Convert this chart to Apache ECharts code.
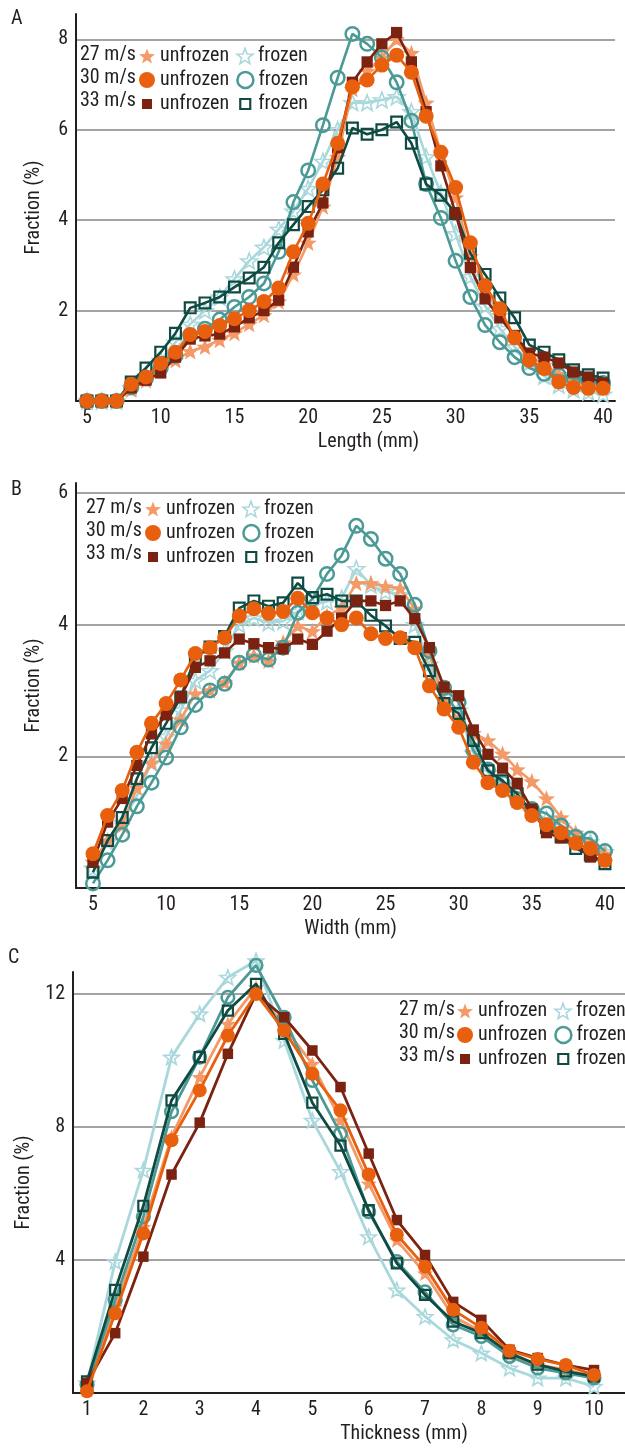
<!DOCTYPE html>
<html>
<head>
<meta charset="utf-8">
<script src="https://cdn.jsdelivr.net/npm/echarts@6/dist/echarts.min.js"></script>
<style>
html, body { margin: 0; padding: 0; background: #fff; }
#chart { width: 625px; height: 1449px; }
</style>
</head>
<body>
<div id="chart"></div>
<script>
// x positions of the measured classes
var lengthMm = [5, 6, 7, 8, 9, 10, 11, 12, 13, 14, 15, 16, 17, 18, 19, 20, 21, 22, 23, 24, 25, 26, 27, 28, 29, 30, 31, 32, 33, 34, 35, 36, 37, 38, 39, 40];
var widthMm = [5, 6, 7, 8, 9, 10, 11, 12, 13, 14, 15, 16, 17, 18, 19, 20, 21, 22, 23, 24, 25, 26, 27, 28, 29, 30, 31, 32, 33, 34, 35, 36, 37, 38, 39, 40];
var thicknessMm = [1, 1.5, 2, 2.5, 3, 3.5, 4, 4.5, 5, 5.5, 6, 6.5, 7, 7.5, 8, 8.5, 9, 9.5, 10];

// tick labels
var lengthTicks = [5, 10, 15, 20, 25, 30, 35, 40];
var widthTicks = [5, 10, 15, 20, 25, 30, 35, 40];
var thicknessTicks = [1, 2, 3, 4, 5, 6, 7, 8, 9, 10];

// A - length (%)
var lenU27 = [0, 0, 0, 0.25, 0.45, 0.7, 0.9, 1.1, 1.2, 1.35, 1.5, 1.7, 1.9, 2.2, 2.8, 3.5, 4.3, 5.4, 6.9, 7.3, 7.6, 8.0, 7.7, 6.6, 5.5, 4.5, 3.2, 2.5, 1.9, 1.4, 1.0, 0.8, 0.6, 0.45, 0.35, 0.3];
var lenF27 = [0, 0, 0, 0.3, 0.55, 0.9, 1.3, 1.7, 2.0, 2.3, 2.7, 3.1, 3.4, 3.8, 4.2, 4.7, 5.3, 6.0, 6.6, 6.6, 6.66, 6.73, 6.4, 5.4, 4.6, 3.7, 2.75, 2.1, 1.6, 1.2, 0.85, 0.55, 0.35, 0.25, 0.2, 0.15];
var lenU30 = [0, 0, 0, 0.37, 0.53, 0.83, 1.08, 1.47, 1.54, 1.67, 1.82, 2.0, 2.2, 2.5, 3.3, 3.93, 4.8, 5.7, 6.95, 7.1, 7.43, 7.65, 7.27, 6.3, 5.5, 4.72, 3.5, 2.55, 2.04, 1.4, 0.9, 0.72, 0.42, 0.3, 0.28, 0.28];
var lenF30 = [0, 0, 0, 0.3, 0.5, 0.73, 1.0, 1.45, 1.6, 1.8, 2.08, 2.3, 2.6, 3.3, 4.4, 5.1, 6.1, 7.15, 8.12, 7.9, 7.6, 7.05, 6.2, 4.8, 4.05, 3.1, 2.3, 1.68, 1.3, 0.97, 0.73, 0.6, 0.57, 0.5, 0.45, 0.4];
var lenU33 = [0, 0, 0, 0.29, 0.46, 0.62, 0.97, 1.37, 1.44, 1.48, 1.64, 1.84, 2.0, 2.23, 2.96, 3.74, 4.38, 5.6, 7.05, 7.5, 7.9, 8.15, 7.5, 6.4, 5.2, 4.15, 2.95, 2.26, 1.84, 1.45, 1.06, 0.97, 0.84, 0.64, 0.53, 0.4];
var lenF33 = [0, 0, 0, 0.42, 0.73, 1.08, 1.5, 2.06, 2.17, 2.3, 2.52, 2.72, 2.96, 3.5, 3.9, 4.3, 4.67, 5.15, 6.04, 5.9, 6.0, 6.17, 5.7, 4.8, 4.55, 4.15, 3.27, 2.8, 2.28, 1.84, 1.24, 1.08, 0.91, 0.69, 0.58, 0.51];

// B - width (%)
var widU27 = [0.4, 0.72, 0.95, 1.52, 1.9, 2.19, 2.56, 2.95, 3.0, 3.12, 3.42, 3.53, 3.45, 3.73, 3.98, 3.9, 4.13, 4.25, 4.63, 4.63, 4.58, 4.55, 4.24, 3.55, 2.85, 2.55, 2.35, 2.24, 2.04, 1.8, 1.62, 1.36, 1.07, 0.84, 0.66, 0.52];
var widF27 = [0.3, 0.7, 1.0, 1.4, 1.9, 2.3, 2.7, 3.15, 3.3, 3.6, 4.0, 4.1, 4.03, 4.05, 4.2, 4.3, 4.35, 4.4, 4.85, 4.6, 4.5, 4.45, 4.0, 3.4, 2.9, 2.7, 2.05, 1.75, 1.55, 1.35, 1.15, 1.05, 0.95, 0.8, 0.7, 0.55];
var widU30 = [0.52, 1.1, 1.48, 2.06, 2.5, 2.8, 3.16, 3.56, 3.65, 3.8, 4.13, 4.24, 4.17, 4.2, 4.4, 4.18, 4.1, 4.0, 4.1, 3.86, 3.79, 3.8, 3.65, 3.07, 2.72, 2.44, 1.91, 1.6, 1.48, 1.3, 1.1, 0.96, 0.84, 0.68, 0.6, 0.42];
var widF30 = [0.07, 0.42, 0.81, 1.24, 1.6, 1.98, 2.44, 2.78, 3.0, 3.1, 3.42, 3.54, 3.47, 3.65, 4.18, 4.39, 4.77, 5.05, 5.5, 5.3, 5.0, 4.77, 4.3, 3.6, 3.04, 2.82, 2.09, 1.8, 1.6, 1.35, 1.2, 1.13, 0.95, 0.78, 0.75, 0.56];
var widU33 = [0.4, 1.0, 1.36, 1.86, 2.34, 2.63, 2.9, 3.35, 3.45, 3.57, 3.78, 3.71, 3.65, 3.63, 3.78, 3.7, 3.9, 4.1, 4.36, 4.36, 4.29, 4.36, 4.09, 3.65, 3.05, 2.92, 2.4, 2.03, 1.82, 1.59, 1.2, 0.84, 0.76, 0.68, 0.47, 0.42];
var widF33 = [0.24, 0.72, 1.07, 1.66, 2.13, 2.5, 2.9, 3.5, 3.66, 3.82, 4.25, 4.36, 4.28, 4.33, 4.63, 4.41, 4.46, 4.36, 4.36, 4.14, 3.98, 3.79, 3.73, 3.3, 2.8, 2.65, 2.24, 1.78, 1.63, 1.43, 1.15, 0.92, 0.78, 0.6, 0.5, 0.37];

// C - thickness (%)
var thkU27 = [0.2, 2.6, 5.0, 7.7, 9.5, 11.1, 12.2, 11.0, 9.9, 8.2, 6.3, 4.6, 3.6, 2.3, 1.85, 1.15, 0.85, 0.7, 0.5];
var thkF27 = [0.3, 3.95, 6.7, 10.1, 11.4, 12.5, 13.0, 10.6, 8.2, 6.66, 4.7, 3.1, 2.3, 1.6, 1.2, 0.75, 0.45, 0.45, 0.2];
var thkU30 = [0.05, 2.4, 4.8, 7.6, 9.1, 10.75, 12.0, 10.9, 9.6, 8.5, 6.57, 4.76, 3.8, 2.5, 1.96, 1.27, 1.02, 0.84, 0.54];
var thkF30 = [0.25, 2.8, 5.3, 8.46, 10.1, 11.9, 12.86, 11.3, 9.4, 7.8, 5.45, 3.95, 3.04, 2.05, 1.7, 1.1, 0.75, 0.6, 0.45];
var thkU33 = [0.3, 1.8, 4.1, 6.57, 8.13, 10.2, 12.0, 11.3, 10.3, 9.2, 7.2, 5.2, 4.15, 2.74, 2.2, 1.3, 1.05, 0.84, 0.69];
var thkF33 = [0.35, 3.1, 5.63, 8.8, 10.1, 11.5, 12.3, 10.8, 8.73, 7.44, 5.5, 3.9, 2.95, 2.15, 1.8, 1.2, 0.85, 0.65, 0.5];

// narrowest installed sans face, the original uses a condensed type
function pickFont() {
    var ctx = document.createElement('canvas').getContext('2d');
    var probe = 'unfrozen';
    ctx.font = '20px monospace';
    var mono = ctx.measureText(probe).width;
    var names = ['Liberation Sans Narrow', 'DejaVu Sans Condensed', 'Roboto Condensed', 'Liberation Sans', 'Roboto', 'Lato', 'Inter'];
    var best = null;
    names.forEach(function (n) {
        ctx.font = "20px '" + n + "', monospace";
        var w = ctx.measureText(probe).width;
        if (Math.abs(w - mono) > 0.5 && (!best || w < best.w - 1)) best = {name: n, w: w};
    });
    return "'" + (best ? best.name : 'Liberation Sans') + "', sans-serif";
}

var FONT = pickFont();
var FS = 20;
var INK = '#231f20';
var STAR = 'path://M0,-10L2.47,-3.4L9.51,-3.09L3.99,1.3L5.88,8.09L0,4.2L-5.88,8.09L-3.99,1.3L-9.51,-3.09L-2.47,-3.4Z';
var SMALL_SQUARE = 'path://M-8,-8M8,8M-5,-5L5,-5L5,5L-5,5Z';

// one entry per speed / state: draw order = z
var kinds = [
    {name: '27 m/s frozen',   color: '#a9d8dc', symbol: STAR,     icon: STAR,         hollow: true,  scale: 1.1, bw: 1.6, z: 2},
    {name: '27 m/s unfrozen', color: '#f39a68', symbol: STAR,     icon: STAR,         hollow: false, scale: 1.15, z: 3},
    {name: '30 m/s frozen',   color: '#4b9a96', symbol: 'circle', icon: 'circle',     hollow: true,  scale: 0.9, bw: 2.5, z: 4},
    {name: '33 m/s frozen',   color: '#0f4b42', symbol: 'rect',   icon: SMALL_SQUARE, hollow: true,  scale: 0.72, bw: 2.2, z: 5},
    {name: '33 m/s unfrozen', color: '#7b2210', symbol: 'rect',   icon: SMALL_SQUARE, hollow: false, scale: 0.75, z: 6},
    {name: '30 m/s unfrozen', color: '#e8600e', symbol: 'circle', icon: 'circle',     hollow: false, scale: 1.0, z: 7}
];

function pairs(xs, ys) {
    return xs.map(function (x, i) { return [x, ys[i]]; });
}

function styleOf(k) {
    return k.hollow
        ? {color: 'rgba(255,255,255,0)', borderColor: k.color, borderWidth: k.bw}
        : {color: k.color, borderWidth: 0};
}

function makeSeries(idx, xs, sets, size, lw) {
    return kinds.map(function (k) {
        return {
            name: k.name,
            type: 'line',
            xAxisIndex: idx,
            yAxisIndex: idx,
            data: pairs(xs, sets[k.name]),
            symbol: k.symbol,
            symbolSize: size * k.scale,
            symbolKeepAspect: true,
            showAllSymbol: true,
            clip: false,
            lineStyle: {color: k.color, width: lw},
            itemStyle: styleOf(k),
            z: k.z,
            silent: true
        };
    });
}

function makeLegend(left, top) {
    var order = ['27 m/s unfrozen', '27 m/s frozen', '30 m/s unfrozen', '30 m/s frozen', '33 m/s unfrozen', '33 m/s frozen'];
    return {
        left: left, top: top, width: 230,
        padding: 0,
        orient: 'horizontal',
        itemWidth: 16, itemHeight: 16, itemGap: 4,
        selectedMode: false,
        formatter: function (n) { return n.split(' ')[2]; },
        textStyle: {fontFamily: FONT, fontSize: FS, color: INK, lineHeight: 19, padding: [0, 3, 0, 0]},
        data: order.map(function (n) {
            var k = kinds.filter(function (q) { return q.name === n; })[0];
            return {name: n, icon: k.icon, itemStyle: styleOf(k)};
        })
    };
}

function speedLabels(x, ys) {
    return ['27 m/s', '30 m/s', '33 m/s'].map(function (t, i) {
        return {type: 'text', x: x, y: ys[i], style: {text: t, fontFamily: FONT, fontSize: FS, fill: INK, verticalAlign: 'middle'}};
    });
}

function yAxisOf(idx, max, step, gap) {
    return {
        gridIndex: idx, type: 'value', min: 0, max: max, interval: step,
        axisLine: {show: true, lineStyle: {color: INK, width: 2}},
        axisTick: {show: false},
        axisLabel: {
            margin: 8, fontFamily: FONT, fontSize: FS, color: INK,
            formatter: function (v) { return (v === 0 || v % step !== 0) ? '' : String(v); }
        },
        splitLine: {show: true, showMinLine: false, showMaxLine: false, lineStyle: {color: '#a3a3a3', width: 2}},
        name: 'Fraction (%)', nameLocation: 'middle', nameGap: gap,
        nameTextStyle: {fontFamily: FONT, fontSize: FS, color: INK}
    };
}

function xAxisOf(idx, min, max, ticks, name, shift) {
    return {
        gridIndex: idx, type: 'value', min: min, max: max,
        axisLine: {show: true, onZero: false, lineStyle: {color: INK, width: 2}},
        axisTick: {show: false},
        splitLine: {show: false},
        axisLabel: {
            customValues: ticks, margin: 7, fontFamily: FONT, fontSize: FS, color: INK,
            formatter: function (v) { return ticks.indexOf(v) >= 0 ? String(v) : ''; }
        },
        name: name, nameLocation: 'middle', nameGap: 31,
        nameTextStyle: {fontFamily: FONT, fontSize: FS, color: INK, padding: [0, 0, 0, shift]}
    };
}

var setsA = {'27 m/s unfrozen': lenU27, '27 m/s frozen': lenF27, '30 m/s unfrozen': lenU30, '30 m/s frozen': lenF30, '33 m/s unfrozen': lenU33, '33 m/s frozen': lenF33};
var setsB = {'27 m/s unfrozen': widU27, '27 m/s frozen': widF27, '30 m/s unfrozen': widU30, '30 m/s frozen': widF30, '33 m/s unfrozen': widU33, '33 m/s frozen': widF33};
var setsC = {'27 m/s unfrozen': thkU27, '27 m/s frozen': thkF27, '30 m/s unfrozen': thkU30, '30 m/s frozen': thkF30, '33 m/s unfrozen': thkU33, '33 m/s frozen': thkF33};

var chart = echarts.init(document.getElementById('chart'), null, {renderer: 'canvas'});

var option = {
    animation: false,
    backgroundColor: '#fff',
    grid: [
        {left: 76, top: 14, width: 539, height: 387},
        {left: 76, top: 483, width: 549, height: 405},
        {left: 73, top: 972, width: 552, height: 421}
    ],
    xAxis: [
        xAxisOf(0, 4.254, 40.81, lengthTicks, 'Length (mm)', 46),
        xAxisOf(1, 3.84, 41.37, widthTicks, 'Width (mm)', 0),
        xAxisOf(2, 0.751, 10.55, thicknessTicks, 'Thickness (mm)', 110)
    ],
    yAxis: [
        yAxisOf(0, 8.56, 2, 32),
        yAxisOf(1, 6.15, 2, 32),
        yAxisOf(2, 12.66, 4, 32)
    ],
    legend: [
        makeLegend(139, 46),
        makeLegend(145, 499),
        makeLegend(457, 1001)
    ],
    graphic: [
        {type: 'text', x: 11, y: 19, style: {text: 'A', fontFamily: FONT, fontSize: FS, fill: INK, verticalAlign: 'middle'}},
        {type: 'text', x: 11, y: 490, style: {text: 'B', fontFamily: FONT, fontSize: FS, fill: INK, verticalAlign: 'middle'}},
        {type: 'text', x: 8, y: 958, style: {text: 'C', fontFamily: FONT, fontSize: FS, fill: INK, verticalAlign: 'middle'}}
    ].concat(speedLabels(80, [55, 78, 101]))
     .concat(speedLabels(86, [508, 531, 554]))
     .concat(speedLabels(399, [1010, 1033, 1056])),
    series: []
        .concat(makeSeries(0, lengthMm, setsA, 15, 2.6))
        .concat(makeSeries(1, widthMm, setsB, 15, 2.6))
        .concat(makeSeries(2, thicknessMm, setsC, 14, 2.8))
};

chart.setOption(option);
</script>
</body>
</html>
